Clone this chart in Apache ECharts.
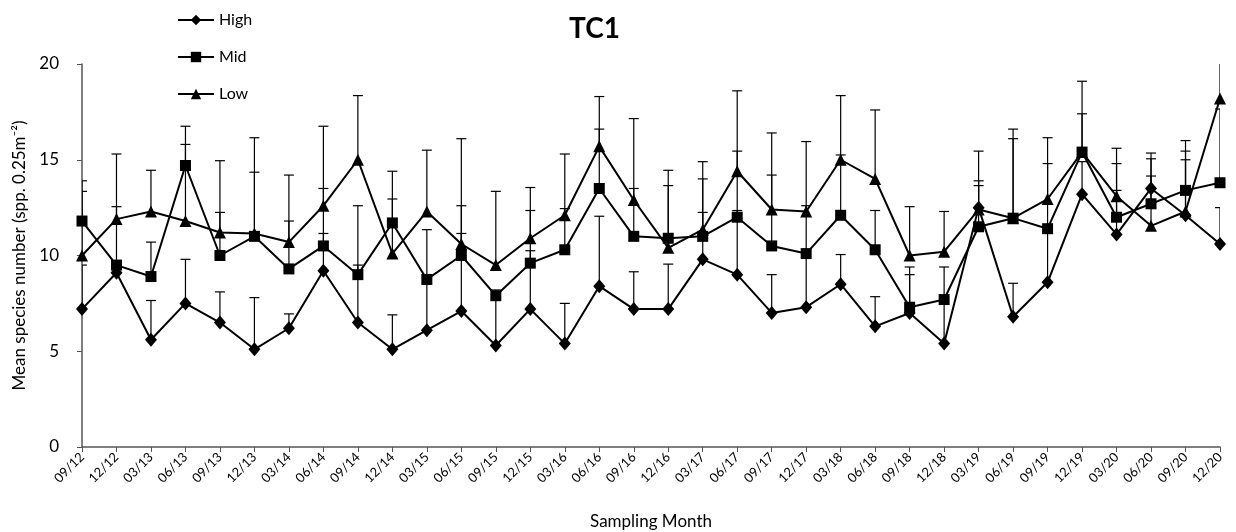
<!DOCTYPE html>
<html>
<head>
<meta charset="utf-8">
<script src="https://cdn.jsdelivr.net/npm/echarts@6/dist/echarts.min.js"></script>
<style>
html,body{margin:0;padding:0;background:#fff;}
#chart{width:1236px;height:532px;}
</style>
</head>
<body>
<div id="chart"></div>
<script>
const categories = ['09/12','12/12','03/13','06/13','09/13','12/13','03/14','06/14','09/14','12/14','03/15','06/15','09/15','12/15','03/16','06/16','09/16','12/16','03/17','06/17','09/17','12/17','03/18','06/18','09/18','12/18','03/19','06/19','09/19','12/19','03/20','06/20','09/20','12/20'];

const highValues = [7.2, 9.1, 5.6, 7.5, 6.5, 5.1, 6.2, 9.2, 6.5, 5.1, 6.1, 7.1, 5.3, 7.2, 5.4, 8.4, 7.2, 7.2, 9.8, 9.0, 7.0, 7.3, 8.5, 6.3, 7.0, 5.4, 12.5, 6.8, 8.6, 13.2, 11.1, 13.5, 12.1, 10.6];
const highErrors = [2.3, 0, 2.05, 2.3, 1.6, 2.7, 0.75, 1.95, 3.0, 1.8, 5.25, 4.05, 2.9, 3.05, 2.1, 3.65, 1.95, 2.35, 2.45, 3.35, 2.0, 5.3, 1.55, 1.55, 2.0, 4.0, 1.4, 1.75, 6.2, 1.7, 2.3, 1.85, 2.9, 1.9];

const midValues = [11.8, 9.5, 8.9, 14.7, 10.0, 11.0, 9.3, 10.5, 9.0, 11.7, 8.75, 10.0, 7.9, 9.6, 10.3, 13.5, 11.0, 10.9, 11.0, 12.0, 10.5, 10.1, 12.1, 10.3, 7.3, 7.7, 11.5, 11.95, 11.4, 15.4, 12.0, 12.7, 13.4, 13.8];
const midErrors = [2.1, 3.05, 1.8, 2.05, 2.25, 3.35, 2.5, 3.0, 3.6, 1.25, 0, 2.6, 0, 2.75, 2.15, 3.1, 2.5, 2.75, 3.0, 3.45, 3.7, 0, 3.15, 2.05, 2.1, 0, 2.15, 4.15, 0, 2.0, 2.8, 2.35, 2.6, 3.85];

const lowValues = [10.0, 11.9, 12.3, 11.8, 11.2, 11.15, 10.7, 12.6, 15.0, 10.1, 12.3, 10.6, 9.5, 10.9, 12.1, 15.7, 12.9, 10.4, 11.35, 14.4, 12.4, 12.3, 15.0, 14.0, 10.0, 10.2, 12.4, 11.95, 12.95, 15.4, 13.1, 11.55, 12.3, 18.2];
const lowErrors = [3.35, 3.4, 2.15, 4.0, 3.75, 5.0, 3.5, 4.15, 3.35, 4.3, 3.2, 5.5, 3.85, 2.65, 3.2, 2.6, 4.25, 4.05, 3.55, 4.2, 4.0, 3.65, 3.35, 3.6, 2.55, 2.1, 3.05, 4.65, 3.2, 3.7, 2.5, 2.6, 3.15, 2.4];

const yTicks = [0, 5, 10, 15, 20];

const FONT = 'Lato, "Open Sans", sans-serif';

function errData(vals, errs){
  return vals.map((v,i)=>[i, v, errs[i]]);
}
function renderErr(params, api){
  const x = api.value(0), v = api.value(1), e = api.value(2);
  if (!e) return null;
  const p0 = api.coord([x, v]);
  const p1 = api.coord([x, v + e]);
  const st = {stroke:'#000', lineWidth:1.2};
  return {type:'group', children:[
    {type:'line', shape:{x1:p0[0], y1:p0[1], x2:p1[0], y2:p1[1]}, style:st},
    {type:'line', shape:{x1:p1[0]-5, y1:p1[1], x2:p1[0]+5, y2:p1[1]}, style:st}
  ]};
}
function errSeries(name, vals, errs){
  return {type:'custom', name:name, data:errData(vals, errs), renderItem:renderErr,
    encode:{x:0, y:1}, clip:true, z:1, silent:true};
}
function lineSeries(name, vals, symbol, size){
  return {type:'line', name:name, data:vals, symbol:symbol, symbolSize:size,
    showAllSymbol:true, z:3,
    lineStyle:{color:'#000', width:2}, itemStyle:{color:'#000'}};
}

const chart = echarts.init(document.getElementById('chart'), null, {renderer:'canvas'});
chart.setOption({
  animation:false,
  backgroundColor:'#fff',
  title:{text:'TC1', left:564, top:10, textStyle:{fontFamily:FONT, fontSize:28, fontWeight:'bold', color:'#000'}},
  legend:{
    orient:'vertical', left:172, top:7, itemWidth:36, itemHeight:13, itemGap:21,
    data:['High','Mid','Low'],
    textStyle:{fontFamily:FONT, fontSize:16, color:'#000'}
  },
  grid:{left:82, right:16, top:64, bottom:85, outerBoundsMode:'none', containLabel:false},
  xAxis:{
    type:'category', data:categories, boundaryGap:false,
    name:'Sampling Month', nameLocation:'middle', nameGap:66,
    nameTextStyle:{fontFamily:FONT, fontSize:17, color:'#000'},
    axisLine:{lineStyle:{color:'#555', width:1.5}},
    axisTick:{show:true, length:5, lineStyle:{color:'#555'}},
    axisLabel:{rotate:45, interval:0, fontFamily:FONT, fontSize:13, color:'#000', margin:8},
    splitLine:{show:false}
  },
  yAxis:{
    type:'value', min:0, max:20, interval:5,
    name:'Mean species number (spp. 0.25m\u207B\u00B2)', nameLocation:'middle', nameGap:54,
    nameTextStyle:{fontFamily:FONT, fontSize:17, color:'#000'},
    axisLine:{show:true, lineStyle:{color:'#555', width:1.5}},
    axisTick:{show:true, length:5, lineStyle:{color:'#555'}},
    axisLabel:{fontFamily:FONT, fontSize:17, color:'#000', margin:23,
      formatter:function(v){ return yTicks.indexOf(v) >= 0 ? String(v) : ''; }},
    splitLine:{show:false}
  },
  series:[
    errSeries('High err', highValues, highErrors),
    errSeries('Mid err', midValues, midErrors),
    errSeries('Low err', lowValues, lowErrors),
    lineSeries('High', highValues, 'diamond', [12,14]),
    lineSeries('Mid', midValues, 'rect', 11),
    lineSeries('Low', lowValues, 'triangle', 12)
  ]
});
</script>
</body>
</html>
